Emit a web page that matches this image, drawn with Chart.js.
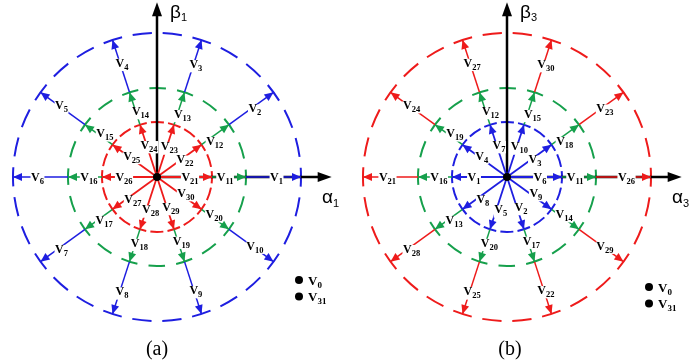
<!DOCTYPE html>
<html>
<head>
<meta charset="utf-8">
<script src="https://cdn.jsdelivr.net/npm/chart.js@4"></script>
<style>
  html, body { margin: 0; padding: 0; background: #fff; }
  #wrap { position: relative; width: 700px; height: 362px; overflow: hidden; }
  canvas { position: absolute; top: 0; }
  #planeA { left: 0; }
  #planeB { left: 350px; }
</style>
</head>
<body>
<div id="wrap">
  <canvas id="planeA" width="350" height="362"></canvas>
  <canvas id="planeB" width="350" height="362"></canvas>
</div>
<script>
// Switching-vector directions, degrees measured from the α axis
const directions = [0, 36, 72, 108, 144, 180, 216, 252, 288, 324];
// Vector magnitudes (× Vdc): small, medium, large
const magnitudes = [0.2472, 0.4, 0.6472];

// Vector numbers along each direction in the α1–β1 plane
const planeA_small  = ['21', '22', '23', '24', '25', '26', '27', '28', '29', '30'];
const planeA_medium = ['11', '12', '13', '14', '15', '16', '17', '18', '19', '20'];
const planeA_large  = ['1', '2', '3', '4', '5', '6', '7', '8', '9', '10'];

// Vector numbers along each direction in the α3–β3 plane
const planeB_small  = ['6', '3', '10', '7', '4', '1', '8', '5', '2', '9'];
const planeB_medium = ['11', '18', '15', '12', '19', '16', '13', '20', '17', '14'];
const planeB_large  = ['26', '23', '30', '27', '24', '21', '28', '25', '22', '29'];

// Zero vectors sitting at the origin
const zeroVectors = ['0', '31'];

const BLUE = '#1e1ee0';
const RED = '#ee1b1b';
const GREEN = '#16a04c';

const SERIF = '"Liberation Serif", "Times New Roman", serif';
const SANS = '"Liberation Sans", Arial, sans-serif';

// px per unit is the same on both axes so the circles stay round
const X_MIN = -0.7056, X_MAX = 0.8674;
const Y_MIN = -0.8315, Y_MAX = 0.7955;
const AXIS_LEN = 0.785;

function drawSubText(ctx, x, y, main, sub, size, subSize, opts) {
  opts = opts || {};
  const bold = opts.bold ? 'bold ' : '';
  const family = opts.family || SERIF;
  ctx.font = bold + size + 'px ' + family;
  const wm = ctx.measureText(main).width;
  ctx.font = bold + subSize + 'px ' + family;
  const ws = ctx.measureText(sub).width;
  const total = wm + ws;
  let left = x;
  if (opts.center) left = x - total / 2;
  const base = opts.center ? y + size * 0.33 : y;
  if (opts.bg) {
    ctx.fillStyle = '#fff';
    ctx.fillRect(left - 0.5, base - size * 0.66, total + 1, size * 0.66 + subSize * 0.4 + 1);
  }
  ctx.fillStyle = opts.color || '#000';
  ctx.textBaseline = 'alphabetic';
  ctx.textAlign = 'left';
  ctx.font = bold + size + 'px ' + family;
  ctx.fillText(main, left, base);
  ctx.font = bold + subSize + 'px ' + family;
  ctx.fillText(sub, left + wm + (opts.subGap || 0), base + (opts.subDrop != null ? opts.subDrop : size * 0.25));
}

function buildPlane(canvasId, rings, colors, axisSub, caption, legendTop) {
  const datasets = [];
  const segInfo = [];
  rings.forEach((names, ri) => {
    const r0 = ri === 0 ? 0 : magnitudes[ri - 1];
    const r1 = magnitudes[ri];
    directions.forEach((deg, k) => {
      const a = deg * Math.PI / 180;
      datasets.push({
        type: 'line',
        data: [
          { x: r0 * Math.cos(a), y: r0 * Math.sin(a) },
          { x: r1 * Math.cos(a), y: r1 * Math.sin(a) }
        ],
        borderColor: colors[ri],
        borderWidth: ri === 0 ? 1.8 : 1.5,
        pointRadius: 0,
        fill: false,
        tension: 0
      });
      segInfo.push({ ring: ri, name: names[k], deg: deg });
    });
  });

  // where each ring's names sit along (and slightly beside) their segment
  const labelFactor = [0.6, 0.765, 0.83];
  const nudgeUpper = [-4, -4, -1];
  const nudgeLower = [7, 3, 1];
  const dashCount = [20, 20, 30];
  const dashFrac = [0.76, 0.6, 0.64];

  const spaceVectorPlugin = {
    id: 'spaceVector',
    beforeDatasetsDraw(chart) {
      const ctx = chart.ctx;
      const xs = chart.scales.x, ys = chart.scales.y;
      const cx = xs.getPixelForValue(0), cy = ys.getPixelForValue(0);
      // dashed magnitude circles
      ctx.save();
      magnitudes.forEach((m, ri) => {
        const r = xs.getPixelForValue(m) - cx;
        const period = 2 * Math.PI * r / dashCount[ri];
        const dash = period * dashFrac[ri];
        ctx.beginPath();
        ctx.setLineDash([dash, period - dash]);
        ctx.lineDashOffset = dash / 2;
        ctx.arc(cx, cy, r, 0, Math.PI * 2);
        ctx.strokeStyle = colors[ri];
        ctx.lineWidth = 2;
        ctx.stroke();
      });
      ctx.setLineDash([]);
      // α and β axes
      const tipX = xs.getPixelForValue(AXIS_LEN);
      const tipY = ys.getPixelForValue(AXIS_LEN);
      ctx.strokeStyle = '#000';
      ctx.fillStyle = '#000';
      ctx.lineWidth = 2.5;
      ctx.beginPath();
      ctx.moveTo(cx, cy); ctx.lineTo(tipX - 10, cy);
      ctx.moveTo(cx, cy); ctx.lineTo(cx, tipY + 10);
      ctx.stroke();
      ctx.beginPath();
      ctx.moveTo(tipX, cy); ctx.lineTo(tipX - 14, cy - 5); ctx.lineTo(tipX - 14, cy + 5); ctx.closePath();
      ctx.fill();
      ctx.beginPath();
      ctx.moveTo(cx, tipY); ctx.lineTo(cx - 5, tipY + 14); ctx.lineTo(cx + 5, tipY + 14); ctx.closePath();
      ctx.fill();
      ctx.restore();
    },
    afterDatasetsDraw(chart) {
      const ctx = chart.ctx;
      const xs = chart.scales.x, ys = chart.scales.y;
      const cx = xs.getPixelForValue(0), cy = ys.getPixelForValue(0);
      ctx.save();
      // arrowheads at the end of every segment
      chart.data.datasets.forEach((ds, i) => {
        const meta = chart.getDatasetMeta(i);
        const p0 = meta.data[0], p1 = meta.data[1];
        const ang = Math.atan2(p1.y - p0.y, p1.x - p0.x);
        const L = 9, W = 4;
        const bx = p1.x - L * Math.cos(ang), by = p1.y - L * Math.sin(ang);
        ctx.beginPath();
        ctx.moveTo(p1.x, p1.y);
        ctx.lineTo(bx + W * Math.sin(ang), by - W * Math.cos(ang));
        ctx.lineTo(bx - W * Math.sin(ang), by + W * Math.cos(ang));
        ctx.closePath();
        ctx.fillStyle = ds.borderColor;
        ctx.fill();
      });
      // vector names
      segInfo.forEach(s => {
        let d = s.deg;
        if (d > 0 && d < 180) d += nudgeUpper[s.ring];
        else if (d > 180) d += nudgeLower[s.ring];
        const a = d * Math.PI / 180;
        const r = magnitudes[s.ring] * labelFactor[s.ring];
        const lx = xs.getPixelForValue(r * Math.cos(a));
        const ly = ys.getPixelForValue(r * Math.sin(a));
        drawSubText(ctx, lx, ly, 'V', s.name, 12, 8.5, { bold: true, center: true, bg: true, subDrop: 3 });
      });
      // origin
      ctx.beginPath();
      ctx.arc(cx, cy, 4, 0, Math.PI * 2);
      ctx.fillStyle = '#000';
      ctx.fill();
      // axis titles
      drawSubText(ctx, cx + 13, cy - 159, 'β', axisSub, 19, 11, { family: SANS, subDrop: 3, subGap: 0 });
      drawSubText(ctx, cx + 165, cy + 26, 'α', axisSub, 19, 11, { family: SANS, subDrop: 4, subGap: 0 });
      // zero vectors
      zeroVectors.forEach((z, i) => {
        const dy = legendTop + i * 16.5;
        ctx.beginPath();
        ctx.arc(cx + 142, dy, 4, 0, Math.PI * 2);
        ctx.fillStyle = '#000';
        ctx.fill();
        drawSubText(ctx, cx + 151, dy + 4.5, 'V', z, 13, 9, { bold: true, subDrop: 3 });
      });
      // caption
      ctx.font = '20px ' + SERIF;
      ctx.fillStyle = '#000';
      ctx.textAlign = 'center';
      ctx.textBaseline = 'alphabetic';
      ctx.fillText(caption, cx + (caption === '(b)' ? 3 : 0), cy + 178);
      ctx.restore();
    }
  };

  return new Chart(document.getElementById(canvasId), {
    type: 'line',
    data: { datasets: datasets },
    options: {
      responsive: false,
      animation: false,
      events: [],
      layout: { padding: 0 },
      scales: {
        x: { type: 'linear', min: X_MIN, max: X_MAX, display: false },
        y: { type: 'linear', min: Y_MIN, max: Y_MAX, display: false }
      },
      plugins: { legend: { display: false }, tooltip: { enabled: false } }
    },
    plugins: [spaceVectorPlugin]
  });
}

buildPlane('planeA', [planeA_small, planeA_medium, planeA_large], [RED, GREEN, BLUE], '1', '(a)', 280);
buildPlane('planeB', [planeB_small, planeB_medium, planeB_large], [BLUE, GREEN, RED], '3', '(b)', 287);
</script>
</body>
</html>
